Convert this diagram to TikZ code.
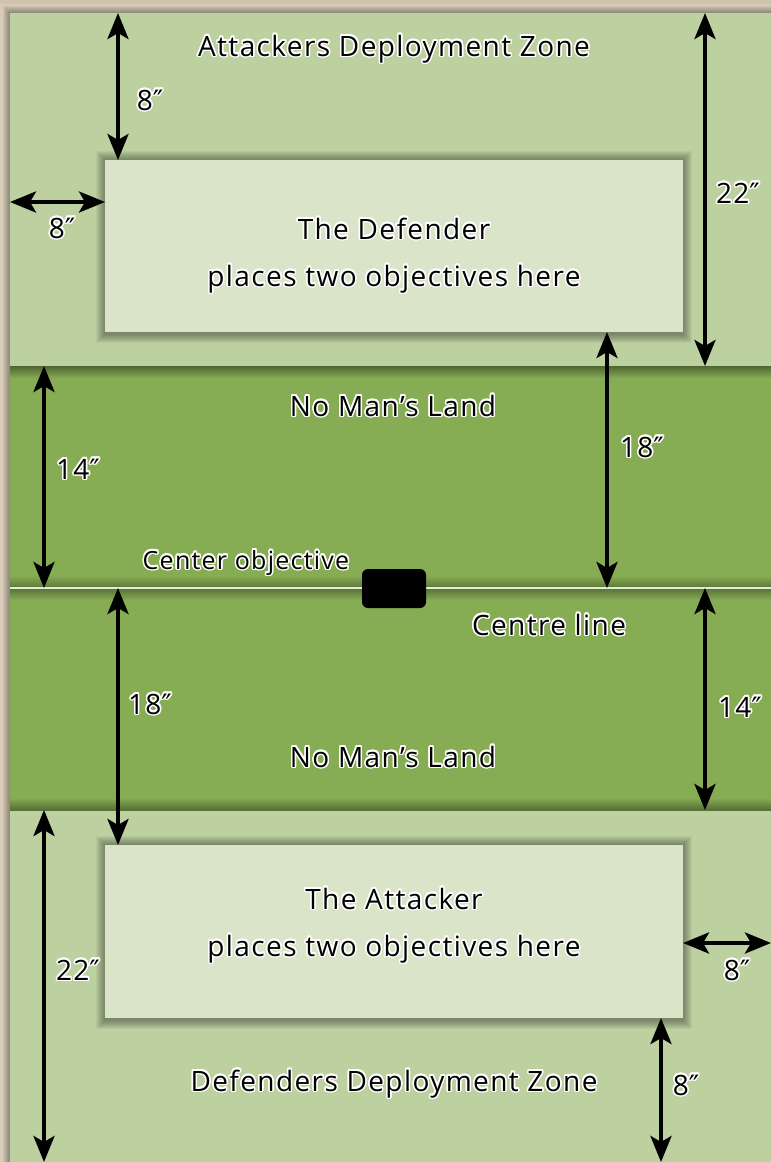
\documentclass[tikz,border=0pt]{standalone}
\usepackage{fontspec}
\setmainfont{Open Sans}[LetterSpace=5]
\newfontfamily\primefont{DejaVu Sans}
\usepackage{contour}
\contourlength{1.5pt}
\contournumber{16}
\usetikzlibrary{arrows.meta}
\definecolor{parch}{RGB}{216,204,184}
\definecolor{lightzone}{RGB}{189,208,160}
\definecolor{darkzone}{RGB}{134,172,84}
\definecolor{boxfill}{RGB}{218,228,201}
\definecolor{cline}{RGB}{225,238,215}
\newcommand\halo[1]{\contour{white}{#1}}
\newcommand\inch{{\primefont ″}}
\begin{document}
\begin{tikzpicture}[x=1pt,y=-1pt,
  zone/.style={inner sep=0pt,outer sep=0pt,anchor=north west,minimum width=761pt},
  placebox/.style={fill=boxfill,inner sep=0pt,outer sep=0pt,anchor=north west,minimum width=578pt,minimum height=172pt},
  lbl/.style={inner sep=0pt,anchor=base,text=black,font=\fontsize{28}{33}\selectfont},
  smalllbl/.style={inner sep=0pt,anchor=base,text=black,font=\fontsize{25}{30}\selectfont},
  dim/.style={line width=4pt,{Stealth[length=26pt,width=21pt,inset=6pt]}-{Stealth[length=26pt,width=21pt,inset=6pt]}}
]
\useasboundingbox (0,0) rectangle (771,1162);
\fill[parch] (0,0) rectangle (771,1162);
\fill[parch!85!black,opacity=0.25] (0,0) rectangle (771,4);
% board shadow
\foreach \d in {1,...,7}{
  \fill[black,opacity=0.05] (10-\d,13-\d) rectangle (771,1162);
}
% zones
\node[zone,fill=lightzone,minimum height=353pt] (attzone) at (10,13) {};
\node[zone,fill=darkzone,minimum height=222pt] (nml1) at (10,366) {};
\node[zone,fill=darkzone,minimum height=222pt] (nml2) at (10,588) {};
\node[zone,fill=lightzone,minimum height=352pt] (defzone) at (10,810) {};
% inner shadows of no man's land bands
\shade[top color=darkzone!55!black,bottom color=darkzone,opacity=0.9] (10,366) rectangle (771,378);
\shade[top color=darkzone,bottom color=darkzone!65!black,opacity=0.9] (10,576) rectangle (771,588);
\shade[top color=darkzone!65!black,bottom color=darkzone,opacity=0.9] (10,589) rectangle (771,600);
\shade[top color=darkzone,bottom color=darkzone!60!black,opacity=0.9] (10,798) rectangle (771,810);
% centre line
\draw[cline,line width=2pt] (nml2.north west) -- (nml2.north east);
% boxes with soft shadow
\foreach \d in {1,...,9}{
  \fill[black,opacity=0.045] (105-\d,160-\d) rectangle (683+\d,332+\d+2);
  \fill[black,opacity=0.045] (105-\d,845-\d) rectangle (683+\d,1018+\d+2);
}
\node[placebox] (def) at (105,160) {};
\node[placebox,minimum height=173pt] (att) at (105,845) {};
% center objective
\node[fill=black,rounded corners=6pt,minimum width=64pt,minimum height=39pt,inner sep=0pt] (obj) at (394,588.5) {};
% texts
\node[lbl] (tAttZone) at (394,56) {\halo{Attackers Deployment Zone}};
\node[lbl] (tDef1) at (394,239) {\halo{The Defender}};
\node[lbl] (tDef2) at (394,286) {\halo{places two objectives here}};
\node[lbl] (tNml1) at (393,416) {\halo{No Man’s Land}};
\node[smalllbl] (tObj) at (246,569) {\halo{Center objective}};
\node[lbl] (tCl) at (549,635) {\halo{Centre line}};
\node[lbl] (tNml2) at (393,767) {\halo{No Man’s Land}};
\node[lbl] (tAtt1) at (394,909) {\halo{The Attacker}};
\node[lbl] (tAtt2) at (394,956) {\halo{places two objectives here}};
\node[lbl] (tDefZone) at (394,1091) {\halo{Defenders Deployment Zone}};
% dimension end points
\coordinate (c8top) at (118,13);
\coordinate (c8left) at (10,202);
\coordinate (c22top) at (705,13);
\coordinate (c14up) at (44,366);
\coordinate (c18up) at (607,588);
\coordinate (c18lo) at (118,588);
\coordinate (c14lo) at (705,588);
\coordinate (c22lo) at (44,1162);
\coordinate (c8right) at (771,943);
\coordinate (c8bot) at (661,1162);
% dimension arrows
\draw[dim] (c8top) -- (c8top |- def.north);
\draw[dim] (c8left) -- (c8left -| def.west);
\draw[dim] (c22top) -- (c22top |- nml1.north);
\draw[dim] (c14up) -- (c14up |- nml2.north);
\draw[dim] (c18up |- def.south) -- (c18up);
\draw[dim] (c18lo) -- (c18lo |- att.north);
\draw[dim] (c14lo) -- (c14lo |- defzone.north);
\draw[dim] (c22lo |- defzone.north) -- (c22lo);
\draw[dim] (c8right -| att.east) -- (c8right);
\draw[dim] (c8bot |- att.south) -- (c8bot);
% dimension labels
\node[lbl] (l8top) at (150,110) {\halo{8\inch}};
\node[lbl] (l8left) at (62,238) {\halo{8\inch}};
\node[lbl] (l22top) at (738,203) {\halo{22\inch}};
\node[lbl] (l14up) at (78,479) {\halo{14\inch}};
\node[lbl] (l18up) at (642,457) {\halo{18\inch}};
\node[lbl] (l18lo) at (150,714) {\halo{18\inch}};
\node[lbl] (l14lo) at (740,717) {\halo{14\inch}};
\node[lbl] (l22lo) at (78,980) {\halo{22\inch}};
\node[lbl] (l8right) at (737,980) {\halo{8\inch}};
\node[lbl] (l8bot) at (686,1095) {\halo{8\inch}};
\end{tikzpicture}
\end{document}
